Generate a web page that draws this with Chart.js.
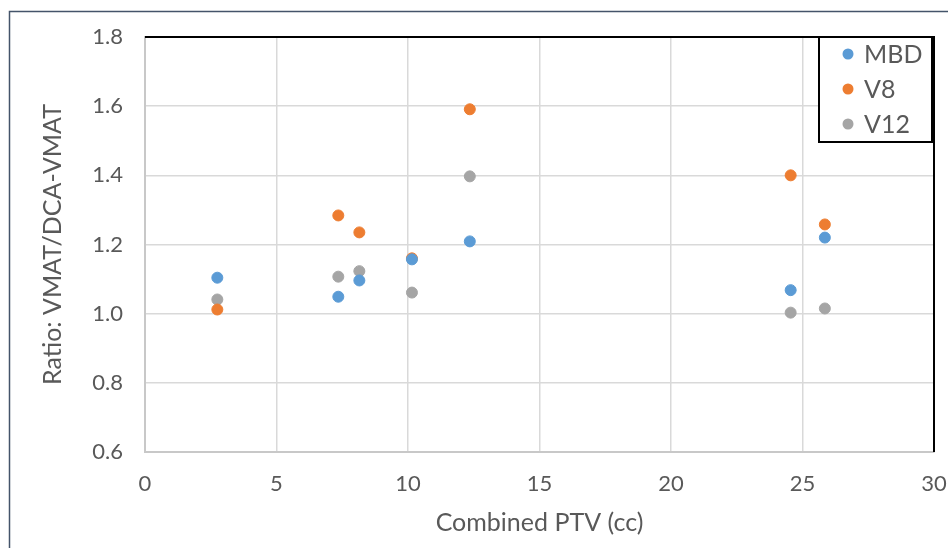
<!DOCTYPE html>
<html>
<head>
<meta charset="utf-8">
<script src="https://cdn.jsdelivr.net/npm/chart.js@4.4.1/dist/chart.umd.min.js"></script>
<style>
  html, body { margin: 0; padding: 0; background: #fff; }
  #wrap { width: 948px; height: 548px; }
</style>
</head>
<body>
<div id="wrap"><canvas id="ratioChart"></canvas></div>
<script>
const ctx = document.getElementById('ratioChart');

// Data
var ptv = [2.75, 7.35, 8.15, 10.15, 12.35, 24.55, 25.85];
var mbd = [1.104, 1.049, 1.096, 1.157, 1.209, 1.068, 1.220];
var v8 = [1.012, 1.284, 1.235, 1.160, 1.591, 1.400, 1.258];
var v12 = [1.041, 1.107, 1.123, 1.061, 1.397, 1.003, 1.015];
var seriesNames = ['MBD', 'V8', 'V12'];
var seriesColors = ['#5B9BD5', '#ED7D31', '#A5A5A5'];

function toPoints(ys) {
    return ptv.map(function (x, i) { return { x: x, y: ys[i] }; });
}

var textColor = '#595959';
var fontFamily = "Lato, 'Open Sans', sans-serif";

//Frame, plot border and legend box
var decorations = {
    id: 'decorations',
    beforeDraw: function (chart) {
        var c = chart.ctx;
        c.save();
        c.strokeStyle = '#44546A';
        c.lineWidth = 1.5;
        c.strokeRect(9.5, 11.5, 960, 560);
        c.restore();
    },
    afterDraw: function (chart) {
        var c = chart.ctx;
        var a = chart.chartArea;
        c.save();
        c.strokeStyle = '#000';
        c.lineWidth = 2;
        c.beginPath();
        c.moveTo(a.left, a.top);
        c.lineTo(a.right, a.top);
        c.lineTo(a.right, a.bottom);
        c.stroke();

        // legend
        var lx = 819, ly = 37, lw = 113, lh = 105;
        c.fillStyle = '#fff';
        c.fillRect(lx, ly, lw, lh);
        c.lineWidth = 2;
        c.strokeRect(lx, ly, lw, lh);
        c.font = "25px " + fontFamily;
        c.textBaseline = 'middle';
        chart.data.datasets.forEach(function (ds, i) {
            var cy = ly + 17 + i * 35;
            c.fillStyle = ds.backgroundColor;
            c.beginPath();
            c.arc(lx + 29, cy, 5.5, 0, Math.PI * 2);
            c.fill();
            c.fillStyle = textColor;
            c.fillText(ds.label, lx + 45, cy + 1);
        });
        c.restore();
    }
};

//Create chart
new Chart(ctx, {
    type: 'scatter',
    data: {
        datasets: [
            {
                label: seriesNames[0],
                data: toPoints(mbd),
                backgroundColor: seriesColors[0],
                borderColor: seriesColors[0],
                pointRadius: 5.5
            },
            {
                label: seriesNames[1],
                data: toPoints(v8),
                backgroundColor: seriesColors[1],
                borderColor: seriesColors[1],
                pointRadius: 5.5
            },
            {
                label: seriesNames[2],
                data: toPoints(v12),
                backgroundColor: seriesColors[2],
                borderColor: seriesColors[2],
                pointRadius: 5.5
            }
        ]
    },
    plugins: [decorations],
    options: {
        responsive: true,
        maintainAspectRatio: false,
        animation: false,
        layout: { padding: { top: 37, right: 14, left: 0, bottom: 0 } },
        plugins: {
            legend: { display: false },
            tooltip: { enabled: false }
        },
        scales: {
            x: {
                type: 'linear',
                min: 0,
                max: 30,
                ticks: { stepSize: 5, color: textColor, padding: 19, font: { size: 22, family: fontFamily } },
                grid: { color: '#D9D9D9', lineWidth: 1.5, drawTicks: false },
                border: { color: '#C8C8C8', width: 2 },
                title: { display: true, text: 'Combined PTV (cc)', color: textColor, font: { size: 25, family: fontFamily }, padding: { top: 0, bottom: 10 } },
                afterFit: function (scale) {
                    scale.height = 96;
                    scale.paddingLeft = 0;
                    scale.paddingRight = 0;
                }
            },
            y: {
                min: 0.6,
                max: 1.8,
                ticks: {
                    stepSize: 0.2, color: textColor, padding: 22, font: { size: 22, family: fontFamily },
                    callback: function (v) { return v.toFixed(1); }
                },
                grid: { color: '#D9D9D9', lineWidth: 1.5, drawTicks: false },
                border: { color: '#C8C8C8', width: 2 },
                title: { display: true, text: 'Ratio: VMAT/DCA-VMAT', color: textColor, font: { size: 25, family: fontFamily }, padding: { bottom: 0, top: 38 } },
                afterFit: function (scale) {
                    scale.width = 145;
                    scale.paddingTop = 0;
                    scale.paddingBottom = 0;
                }
            }
        }
    }
});
</script>
</body>
</html>
